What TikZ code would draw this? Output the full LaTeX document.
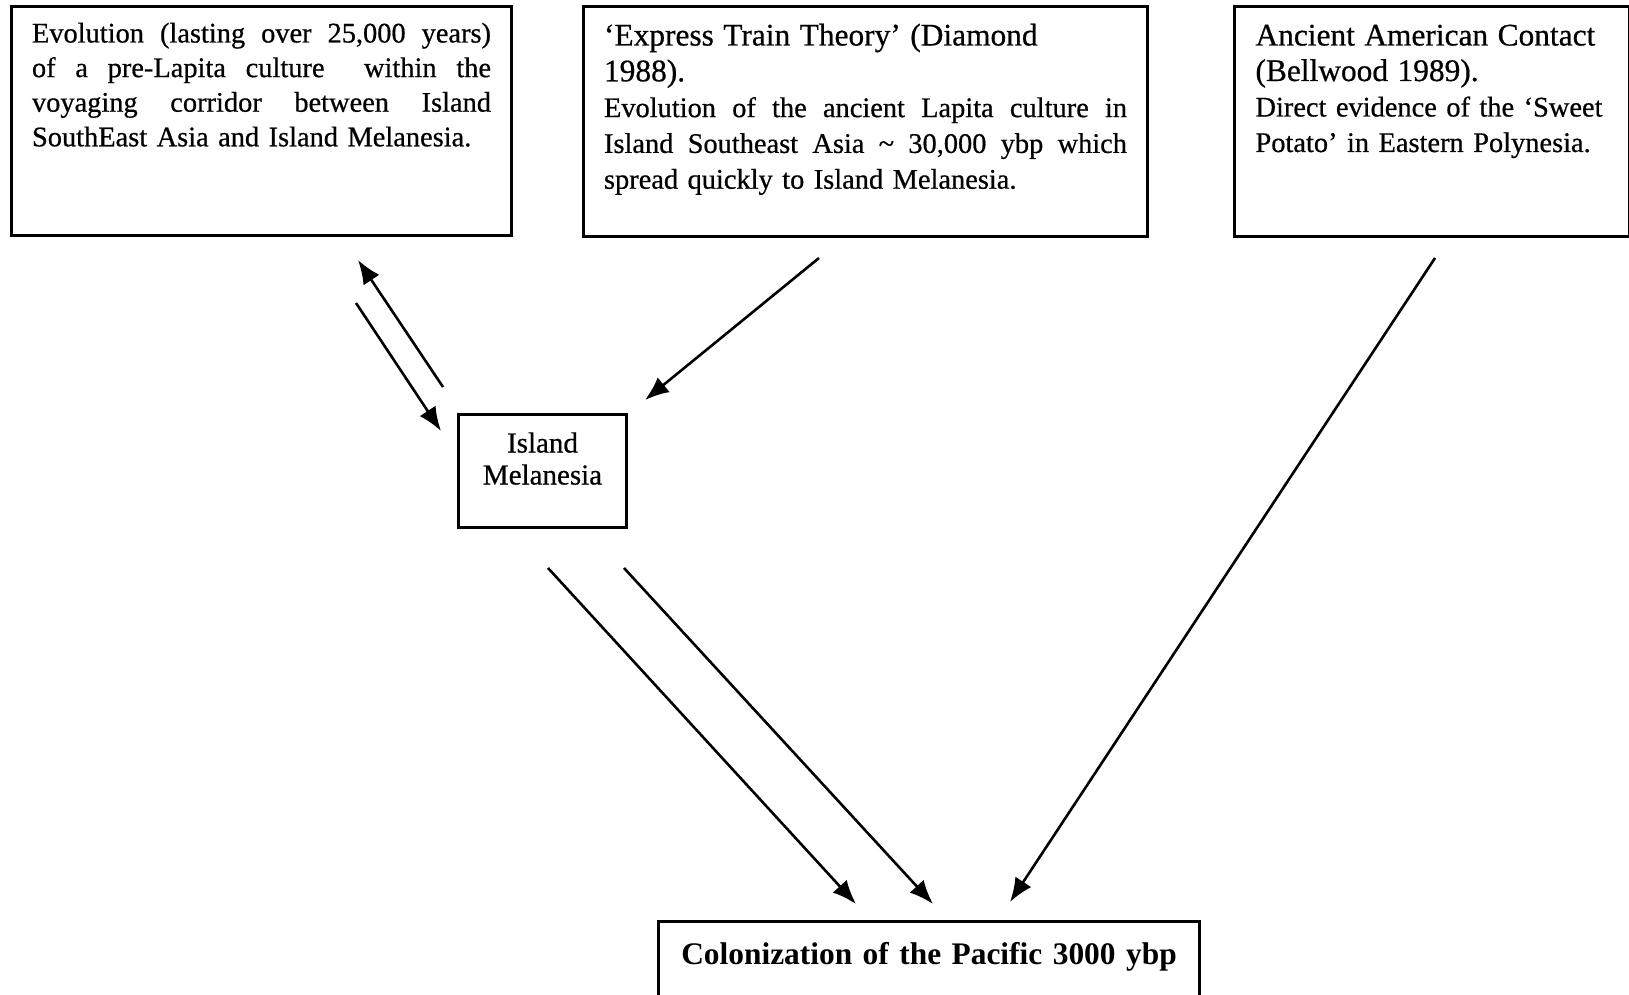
\documentclass[tikz,border=0pt]{standalone}
\usepackage{fontspec}
\setmainfont{Liberation Serif}
\newfontfamily\scanfont{Liberation Serif}[FakeBold=0.6]
\usetikzlibrary{arrows.meta}
\tikzset{
  box/.style={draw, line width=3pt, inner ysep=0pt, anchor=north west, align=left},
  arr/.style={line width=2.6pt, -{Latex[length=24pt,width=19pt]}},
}
\newcommand{\jline}[2]{\leavevmode\hbox to #1{\spaceskip=0.25em plus 1fil\relax #2}}
\newcommand{\hdsize}[1]{\mbox{\fontsize{31.4}{36}\selectfont #1}}
\begin{document}
\begin{tikzpicture}[x=1pt,y=-1pt]
\clip (0,0) rectangle (1629,995);
\fill[white] (0,0) rectangle (1629,995);

\node[box, inner xsep=20.5pt, text width=459pt, text height=36pt, text depth=193pt,
      font=\scanfont\fontsize{28.4}{34.6}\selectfont] (evo) at (10,5)
  {\jline{459pt}{Evolution (lasting over 25,000 years)}\\
   \jline{459pt}{of a pre-Lapita culture \ within the}\\
   \jline{459pt}{voyaging corridor between Island}\\
   \mbox{SouthEast Asia and Island Melanesia.}};

\node[box, inner xsep=20.5pt, text width=523pt, text height=39pt, text depth=191pt,
      font=\scanfont\fontsize{28.4}{35.8}\selectfont] (exp) at (582,5)
  {\hdsize{‘Express Train Theory’ (Diamond}\\
   \hdsize{1988).}\\
   \jline{523pt}{Evolution of the ancient Lapita culture in}\\
   \jline{523pt}{Island Southeast Asia \textasciitilde\ 30,000 ybp which}\\
   \mbox{spread quickly to Island Melanesia.}};

\node[box, inner xsep=21pt, text width=353pt, text height=39pt, text depth=191pt,
      font=\scanfont\fontsize{28.4}{35.5}\selectfont] (ame) at (1233,5)
  {\hdsize{Ancient American Contact}\\
   \hdsize{(Bellwood 1989).}\\
   \mbox{Direct evidence of the ‘Sweet}\\
   \mbox{Potato’ in Eastern Polynesia.}};

\node[box, align=center, inner xsep=4pt, text width=160pt, text height=38pt, text depth=75pt,
      font=\scanfont\fontsize{29}{32}\selectfont] (mel) at (457,413)
  {Island\\Melanesia};

\node[box, align=center, inner xsep=10pt, text width=521pt, text height=43pt, text depth=45pt,
      font=\bfseries\fontsize{31.4}{36}\selectfont] (col) at (657,920)
  {Colonization of the Pacific 3000 ybp};

\coordinate (a1s) at (443,387); \coordinate (a1e) at (358,260);
\coordinate (a2s) at (356,303); \coordinate (a2e) at (441,431);
\coordinate (a3s) at (819,258); \coordinate (a3e) at (645,400);
\coordinate (a4s) at (1435,258); \coordinate (a4e) at (1010,902);
\coordinate (a5s) at (548,568); \coordinate (a5e) at (856,904);
\coordinate (a6s) at (624,568); \coordinate (a6e) at (933,904);

\draw[arr] (a1s) -- (a1e);
\draw[arr] (a2s) -- (a2e);
\draw[arr] (a3s) -- (a3e);
\draw[arr] (a4s) -- (a4e);
\draw[arr] (a5s) -- (a5e);
\draw[arr] (a6s) -- (a6e);
\end{tikzpicture}
\end{document}
